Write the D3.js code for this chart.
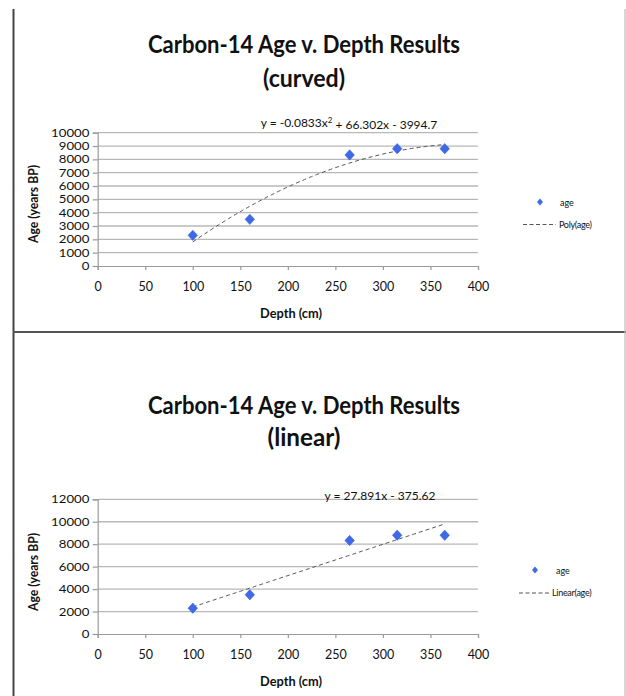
<!DOCTYPE html>
<html>
<head>
<meta charset="utf-8">
<script src="https://cdn.jsdelivr.net/npm/d3@7"></script>
<style>
  html, body { margin: 0; padding: 0; background: #fff; }
  svg { display: block; }
  text { font-family: Lato, "Open Sans", sans-serif; fill: #111; }
</style>
</head>
<body>
<svg id="page" width="626" height="696"></svg>
<script>
// Radiocarbon samples: core depth (cm) and age (years BP)
const depthCm = [100, 160, 265, 315, 365];
const ageYearsBP = [2300, 3500, 8330, 8800, 8800];

// Axis ticks
const depthTicks = [0, 50, 100, 150, 200, 250, 300, 350, 400];
const ageTicksCurved = [0, 1000, 2000, 3000, 4000, 5000, 6000, 7000, 8000, 9000, 10000];
const ageTicksLinear = [0, 2000, 4000, 6000, 8000, 10000, 12000];

// Fitted trendlines (coefficients as printed on each chart)
const polyCoef = [-0.0833, 66.302, -3994.7];   // a x^2 + b x + c
const linearCoef = [27.891, -375.62];          // m x + b
const fitRange = [100, 365];

const titleMain = "Carbon-14 Age v. Depth Results";
const xTitle = "Depth (cm)";
const yTitle = "Age (years BP)";
const seriesName = "age";

const svg = d3.select("#page");
const points = depthCm.map((d, i) => ({ x: d, y: ageYearsBP[i] }));

function diamondPath(cx, cy, w, h) {
  return `M${cx},${cy - h}L${cx + w},${cy}L${cx},${cy + h}L${cx - w},${cy}Z`;
}

function drawPanel(cfg) {
  const g = svg.append("g");
  const x = d3.scaleLinear().domain([0, 400]).range([97.7, 478]);
  const y = d3.scaleLinear().domain([0, cfg.yMax]).range([cfg.y0, cfg.yTop]);

  // Title (narrow, Calibri-like proportions)
  g.append("text").attr("x", 304).attr("y", cfg.titleY)
    .attr("text-anchor", "middle").style("font-weight", 700).style("font-size", "24px")
    .attr("textLength", 312).attr("lengthAdjust", "spacingAndGlyphs")
    .text(titleMain);
  g.append("text").attr("x", 304).attr("y", cfg.titleY + cfg.titleGap)
    .attr("text-anchor", "middle").style("font-weight", 700).style("font-size", "24px")
    .attr("textLength", cfg.subtitleWidth).attr("lengthAdjust", "spacingAndGlyphs")
    .text(cfg.subtitle);

  // Horizontal gridlines
  g.append("g").selectAll("line").data(cfg.yTicks.filter(t => t > 0)).join("line")
    .attr("x1", x(0)).attr("x2", x(400))
    .attr("y1", d => y(d)).attr("y2", d => y(d))
    .attr("stroke", "#b8b8b8").attr("stroke-width", 1.3);

  // Y axis
  const yAxis = d3.axisLeft(y).tickValues(cfg.yTicks).tickSize(5).tickPadding(2)
    .tickFormat(d3.format("d"));
  const ya = g.append("g").attr("transform", `translate(${x(0)},0)`).call(yAxis);
  ya.select(".domain").attr("stroke", "#9a9a9a").attr("stroke-width", 1.2);
  ya.selectAll(".tick line").attr("stroke", "#9a9a9a").attr("stroke-width", 1.2);
  ya.selectAll(".tick text").style("font-family", "Lato, sans-serif")
    .style("font-size", "11px").attr("fill", "#111")
    .attr("transform", "scale(1.2,1)");

  // X axis
  const xAxis = d3.axisBottom(x).tickValues(depthTicks).tickSize(4).tickPadding(12)
    .tickFormat(d3.format("d"));
  const xa = g.append("g").attr("transform", `translate(0,${cfg.y0})`).call(xAxis);
  xa.select(".domain").attr("stroke", "#9a9a9a").attr("stroke-width", 1.2);
  xa.selectAll(".tick line").attr("stroke", "#9a9a9a").attr("stroke-width", 1.2);
  xa.selectAll(".tick text").style("font-family", "Lato, sans-serif")
    .style("font-size", "12.5px").attr("fill", "#111");

  // Axis titles
  g.append("text").attr("x", 291).attr("y", cfg.xTitleY).attr("dy", "0.35em")
    .attr("text-anchor", "middle").style("font-weight", 700).style("font-size", "13px")
    .attr("textLength", 62).attr("lengthAdjust", "spacingAndGlyphs")
    .text(xTitle);
  g.append("text")
    .attr("transform", `translate(33,${cfg.yTitleY}) rotate(-90)`).attr("dy", "0.35em")
    .attr("text-anchor", "middle").style("font-weight", 700).style("font-size", "13px")
    .attr("textLength", 78).attr("lengthAdjust", "spacingAndGlyphs")
    .text(yTitle);

  // Trendline
  const fitX = d3.range(fitRange[0], fitRange[1] + 0.001, 2.5);
  const line = d3.line().x(d => x(d)).y(d => y(cfg.fit(d)));
  g.append("path").datum(fitX).attr("d", line)
    .attr("fill", "none").attr("stroke", "#555").attr("stroke-width", 1)
    .attr("stroke-dasharray", "4,3");

  // Data markers
  g.append("g").selectAll("path").data(points).join("path")
    .attr("d", d => diamondPath(x(d.x), y(d.y), 4.8, 5.2))
    .attr("fill", "#3f69e6").attr("stroke", "#3560d8").attr("stroke-width", 0.5);

  // Equation label
  const eq = g.append("text").attr("x", cfg.eqX).attr("y", cfg.eqY).attr("dy", "0.35em")
    .attr("text-anchor", "middle").style("font-size", "12px");
  cfg.equation(eq);

  // Legend
  const L = cfg.legend;
  g.append("path").attr("d", diamondPath(L.markerX, L.markerY, 3, 3.4)).attr("fill", "#3f69e6");
  g.append("text").attr("x", L.textX).attr("y", L.markerY + 1).attr("dy", "0.35em")
    .style("font-size", "9px").attr("fill", "#333").text(seriesName);
  g.append("line").attr("x1", L.lineX1).attr("x2", L.lineX2)
    .attr("y1", L.lineY).attr("y2", L.lineY)
    .attr("stroke", "#555").attr("stroke-width", 1).attr("stroke-dasharray", "4,2.5");
  g.append("text").attr("x", L.lineX2 + 3).attr("y", L.lineY).attr("dy", "0.35em")
    .style("font-size", "9px").style("letter-spacing", "-0.3px").attr("fill", "#333")
    .text(L.fitName);
}

// Page frame
svg.append("line").attr("x1", 13.5).attr("x2", 13.5).attr("y1", 9).attr("y2", 696)
  .attr("stroke", "#444").attr("stroke-width", 2);
svg.append("line").attr("x1", 13).attr("x2", 626).attr("y1", 332).attr("y2", 332)
  .attr("stroke", "#555").attr("stroke-width", 2);
svg.append("line").attr("x1", 625).attr("x2", 625).attr("y1", 9).attr("y2", 696)
  .attr("stroke", "#bdbdbd").attr("stroke-width", 1.2);

drawPanel({
  subtitle: "(curved)", subtitleWidth: 82,
  titleY: 53, titleGap: 34,
  yMax: 10000, y0: 266, yTop: 132.7, yTicks: ageTicksCurved,
  xTitleY: 313, yTitleY: 204,
  fit: v => polyCoef[0] * v * v + polyCoef[1] * v + polyCoef[2],
  eqX: 349, eqY: 122.5,
  equation: t => {
    t.append("tspan").text("y = -0.0833x");
    t.append("tspan").attr("dy", "-0.45em").style("font-size", "8px").text("2");
    t.append("tspan").attr("dy", "0.45em").text(" + 66.302x - 3994.7");
  },
  legend: { markerX: 540, markerY: 202, textX: 560, lineX1: 523, lineX2: 556, lineY: 224.5, fitName: "Poly(age)" }
});

drawPanel({
  subtitle: "(linear)", subtitleWidth: 73,
  titleY: 414, titleGap: 32,
  yMax: 12000, y0: 634, yTop: 499.3, yTicks: ageTicksLinear,
  xTitleY: 681.5, yTitleY: 572,
  fit: v => linearCoef[0] * v + linearCoef[1],
  eqX: 380, eqY: 496,
  equation: t => t.text("y = 27.891x - 375.62"),
  legend: { markerX: 535, markerY: 570, textX: 556, lineX1: 519, lineX2: 549, lineY: 593, fitName: "Linear(age)" }
});
</script>
</body>
</html>
